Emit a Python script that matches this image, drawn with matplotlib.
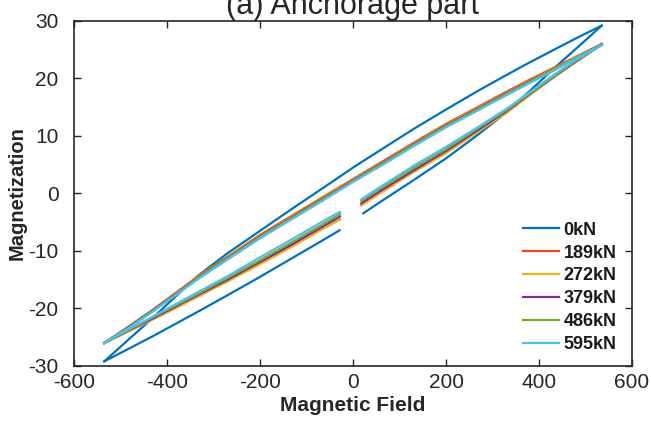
import matplotlib
matplotlib.use("Agg")
import matplotlib.pyplot as plt

plt.rcParams['font.family'] = ['Liberation Sans', 'DejaVu Sans']
plt.rcParams['axes.unicode_minus'] = False

# Field values: descending branch and the two parts of the ascending branch
up_H = [535, 480, 430, 380, 330, 270, 200, 130, 60, 0,
        -60, -130, -200, -270, -330, -380, -430, -480, -535]
low_neg_H = [-535, -480, -430, -380, -330, -270, -200, -130, -60, -28]
low_pos_H = [18, 60, 130, 200, 270, 330, 380, 430, 480, 535]

# 0kN loop ends a little further from zero field
low_neg_H0 = [-535, -480, -430, -380, -330, -270, -200, -130, -60, -29]
low_pos_H0 = [22, 60, 130, 200, 270, 330, 380, 430, 480, 535]

labels = ['0kN', '189kN', '272kN', '379kN', '486kN', '595kN']
colors = ['#0072BD', '#D95319', '#EDB120', '#7E2F8E', '#77AC30', '#4DBEEE']

# magnetization, descending branch
up_0 = [29.2, 27.0, 24.9, 22.8, 20.6, 17.9, 14.6, 11.2, 7.6, 4.5,
        1.2, -2.6, -6.5, -10.4, -14.1, -17.8, -21.6, -25.2, -29.2]
up_189 = [26.0, 23.8, 21.8, 19.8, 17.7, 15.1, 12.1, 8.8, 5.4, 2.5,
          -0.4, -3.8, -7.2, -11.0, -14.2, -17.2, -20.2, -23.0, -26.0]
up_272 = [25.9, 23.7, 21.6, 19.6, 17.5, 14.9, 11.9, 8.6, 5.2, 2.3,
          -0.6, -4.0, -7.4, -11.1, -14.3, -17.3, -20.3, -23.1, -26.0]
up_379 = [25.9, 23.6, 21.5, 19.5, 17.4, 14.8, 11.8, 8.5, 5.1, 2.2,
          -0.7, -4.1, -7.5, -11.2, -14.4, -17.4, -20.3, -23.1, -26.0]
up_486 = [25.9, 23.6, 21.5, 19.4, 17.3, 14.7, 11.7, 8.4, 5.0, 2.1,
          -0.8, -4.2, -7.6, -11.3, -14.5, -17.5, -20.4, -23.2, -26.0]
up_595 = [25.8, 23.5, 21.3, 19.2, 17.1, 14.5, 11.5, 8.2, 4.8, 2.0,
          -1.0, -4.4, -7.8, -11.5, -14.7, -17.6, -20.5, -23.3, -26.0]

# magnetization, ascending branch below zero field
ln_0 = [-29.2, -26.9, -24.8, -22.6, -20.4, -17.7, -14.5, -11.2, -7.9, -6.4]
ln_189 = [-26.0, -23.8, -21.8, -19.8, -17.7, -15.2, -12.2, -9.1, -5.9, -4.5]
ln_272 = [-26.0, -23.9, -21.9, -19.9, -17.8, -15.3, -12.3, -9.2, -5.9, -4.5]
ln_379 = [-26.0, -23.7, -21.7, -19.6, -17.5, -15.0, -11.9, -8.8, -5.5, -4.0]
ln_486 = [-26.0, -23.6, -21.5, -19.4, -17.3, -14.7, -11.6, -8.4, -5.1, -3.6]
ln_595 = [-26.0, -23.5, -21.4, -19.2, -17.0, -14.4, -11.1, -7.9, -4.6, -3.2]

# magnetization, ascending branch above zero field
lp_0 = [-3.45, -1.4, 2.3, 6.1, 10.3, 14.1, 17.8, 21.6, 25.2, 29.2]
lp_189 = [-2.0, 0.2, 3.8, 7.2, 11.0, 14.2, 17.2, 20.2, 23.0, 26.0]
lp_272 = [-2.1, 0.1, 3.7, 7.0, 10.8, 14.0, 17.1, 20.1, 22.9, 25.9]
lp_379 = [-1.7, 0.5, 4.0, 7.4, 11.1, 14.3, 17.3, 20.2, 23.0, 25.9]
lp_486 = [-1.3, 0.9, 4.4, 7.7, 11.4, 14.5, 17.4, 20.3, 23.1, 25.9]
lp_595 = [-1.0, 1.2, 4.8, 8.1, 11.6, 14.7, 17.6, 20.5, 23.3, 25.8]

ups = [up_0, up_189, up_272, up_379, up_486, up_595]
lns = [ln_0, ln_189, ln_272, ln_379, ln_486, ln_595]
lps = [lp_0, lp_189, lp_272, lp_379, lp_486, lp_595]

fig = plt.figure(figsize=(6.51, 4.28), dpi=100)
ax = fig.add_axes([0.1137, 0.1449, 0.8571, 0.8061])

lw = 1.6
for i in range(len(labels)):
    nH = low_neg_H0 if i == 0 else low_neg_H
    pH = low_pos_H0 if i == 0 else low_pos_H
    ax.plot(up_H, ups[i], color=colors[i], lw=lw, label=labels[i])
    ax.plot(nH, lns[i], color=colors[i], lw=lw)
    ax.plot(pH, lps[i], color=colors[i], lw=lw)

ax.set_xlim(-600, 600)
ax.set_ylim(-30, 30)
ax.set_xticks(range(-600, 601, 200))
ax.set_yticks(range(-30, 31, 10))
ax.tick_params(direction='in', top=True, right=True, length=5, width=1,
               labelsize=15, labelcolor='#262626', colors='#262626')
ax.tick_params(axis='x', pad=5)
ax.tick_params(axis='y', pad=11)
for s in ax.spines.values():
    s.set_linewidth(1.2)
    s.set_color('#262626')

ax.set_xlabel('Magnetic Field', fontsize=15, fontweight='bold', color='#262626', labelpad=3)
ax.set_ylabel('Magnetization', fontsize=14.5, fontweight='bold', color='#262626', labelpad=1)

fig.text(0.5419, 1 - 14 / 428, '(a) Anchorage part', ha='center', va='baseline',
         fontsize=22, color='#262626')

leg = ax.legend(loc='lower right', frameon=False, fontsize=13, handlelength=2.0,
                handletextpad=0.25, labelspacing=0.33, borderaxespad=0.3,
                bbox_to_anchor=(0.995, 0.0))
for t in leg.get_texts():
    t.set_fontweight('bold')
    t.set_color('#1a1a1a')

fig.savefig('out.png', dpi=100)
